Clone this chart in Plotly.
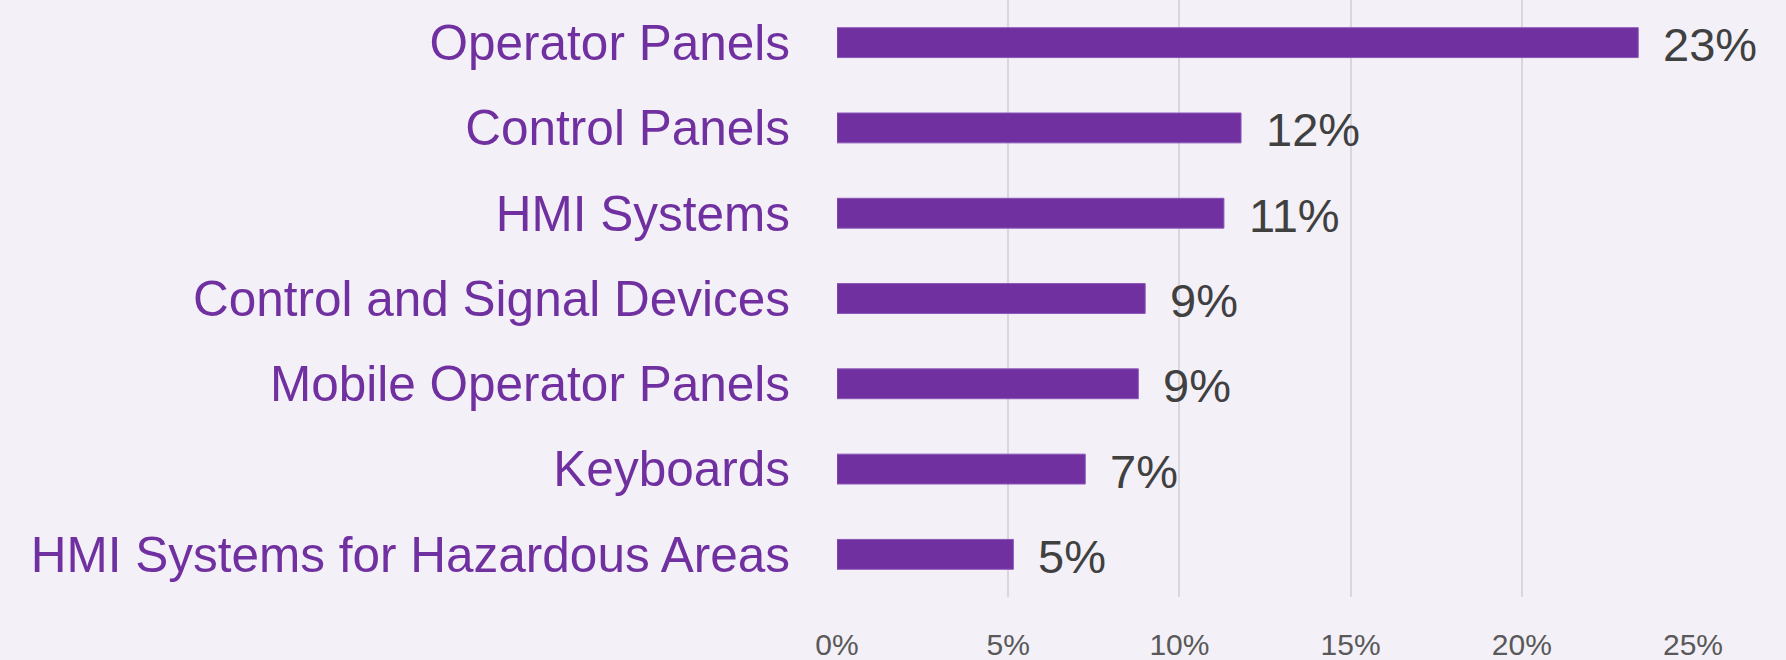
import plotly.graph_objects as go

categories = [
    "Operator Panels",
    "Control Panels",
    "HMI Systems",
    "Control and Signal Devices",
    "Mobile Operator Panels",
    "Keyboards",
    "HMI Systems for Hazardous Areas",
]
values = [23.4, 11.8, 11.3, 9.0, 8.8, 7.25, 5.15]
value_labels = ["23%", "12%", "11%", "9%", "9%", "7%", "5%"]
tick_values = [0, 5, 10, 15, 20, 25]
tick_labels = ["0%", "5%", "10%", "15%", "20%", "25%"]

BG = "#F3F0F8"
PURPLE = "#7030A0"

fig = go.Figure()
fig.add_trace(go.Bar(
    x=values,
    y=categories,
    orientation="h",
    marker=dict(color=PURPLE, line=dict(color="#8A55B8", width=1)),
    hoverinfo="skip",
))

for v, c, t in zip(values, categories, value_labels):
    fig.add_annotation(
        x=v, y=c, text=t, showarrow=False, xanchor="left", yanchor="middle",
        xshift=23, yshift=-2,
        font=dict(family="Liberation Sans, Arial, sans-serif", size=47, color="#404040"),
    )

fig.update_layout(
    width=1786, height=660,
    margin=dict(l=837, r=93, t=0, b=63),
    paper_bgcolor=BG, plot_bgcolor=BG,
    bargap=0.65,
    showlegend=False,
    xaxis=dict(
        range=[0, 25],
        tickvals=tick_values,
        ticktext=tick_labels,
        showgrid=True, gridcolor="#D9D6DD", gridwidth=2,
        zeroline=False, showline=False,
        ticks="", ticklabelstandoff=27,
        automargin=False,
        tickfont=dict(family="Liberation Sans, Arial, sans-serif", size=30, color="#595959"),
        fixedrange=True,
    ),
    yaxis=dict(
        autorange="reversed",
        showgrid=False, zeroline=False, showline=False,
        ticks="", ticklabelstandoff=46,
        automargin=False,
        tickfont=dict(family="Liberation Sans, Arial, sans-serif", size=49.5, color=PURPLE),
        fixedrange=True,
    ),
)

fig.write_html(
    "out.html",
    config={"displayModeBar": False},
    post_script="document.body.style.margin='0';document.body.style.overflow='hidden';",
)
